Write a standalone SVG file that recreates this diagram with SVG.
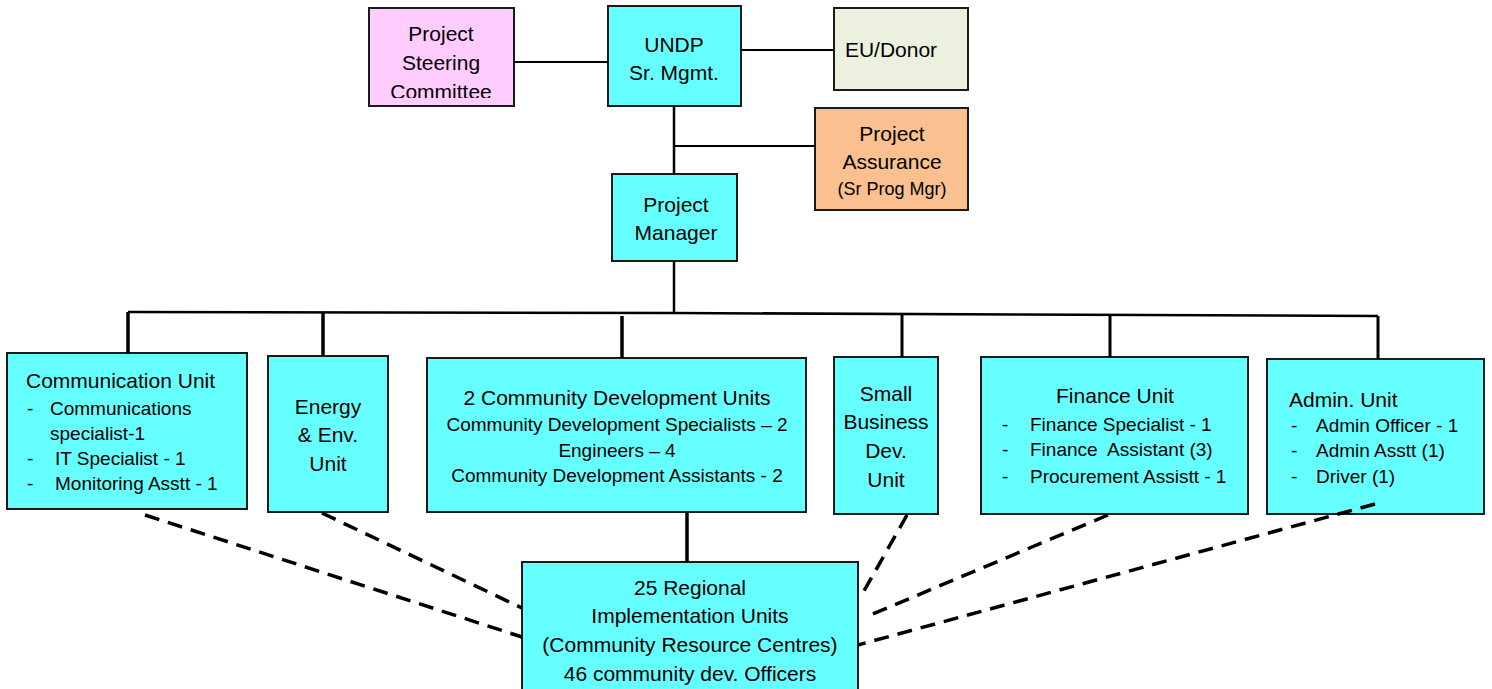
<svg xmlns="http://www.w3.org/2000/svg" width="1492" height="689" viewBox="0 0 1492 689">
<style>
text{font-family:"Liberation Sans",Arial,sans-serif;fill:#000}
.t{font-size:21px}
.s{font-size:19px}
.xs{font-size:18px}
.c{text-anchor:middle}
.box{stroke:#1a1a1a;stroke-width:2}
.cy{fill:#66FFFF}
.ln{stroke:#000;fill:none}
.dash{stroke:#000;stroke-width:3.5;stroke-dasharray:15 9;fill:none}
</style>
<defs>
<clipPath id="psc-clip"><rect x="369" y="8" width="145" height="90"/></clipPath>
</defs>
<g id="psc">
<rect class="box" x="369" y="8" width="145" height="98" fill="#FFCCFF"/>
<g clip-path="url(#psc-clip)">
<text class="t c" x="441" y="41">Project</text>
<text class="t c" x="441" y="70">Steering</text>
<text class="t c" x="441" y="99">Committee</text>
</g>
</g>
<g id="undp">
<rect class="box cy" x="608" y="6" width="133" height="100"/>
<text class="t c" x="674" y="52">UNDP</text>
<text class="t c" x="674" y="80">Sr. Mgmt.</text>
</g>
<g id="eu">
<rect class="box" x="834" y="8" width="134" height="82" fill="#EBF1DE"/>
<text class="t c" x="891" y="57">EU/Donor</text>
</g>
<g id="assurance">
<rect class="box" x="815" y="108" width="153" height="102" fill="#FAC090"/>
<text class="t c" x="892" y="141">Project</text>
<text class="t c" x="892" y="169">Assurance</text>
<text class="xs c" x="892" y="195">(Sr Prog Mgr)</text>
</g>
<g id="pm">
<rect class="box cy" x="612" y="174" width="125" height="87"/>
<text class="t c" x="676" y="212">Project</text>
<text class="t c" x="676" y="240">Manager</text>
</g>
<g id="comm">
<rect class="box cy" x="7" y="353" width="240" height="156"/>
<text class="t" x="26" y="388">Communication Unit</text>
<text class="s" x="27" y="415">-</text>
<text class="s" x="50" y="415">Communications</text>
<text class="s" x="50" y="440">specialist-1</text>
<text class="s" x="27" y="465">-</text>
<text class="s" x="55" y="465">IT Specialist - 1</text>
<text class="s" x="27" y="490">-</text>
<text class="s" x="55" y="490">Monitoring Asstt - 1</text>
</g>
<g id="energy">
<rect class="box cy" x="268" y="356" width="120" height="156"/>
<text class="t c" x="328" y="414">Energy</text>
<text class="t c" x="328" y="442">&amp; Env.</text>
<text class="t c" x="328" y="471">Unit</text>
</g>
<g id="cdu">
<rect class="box cy" x="427" y="358" width="379" height="154"/>
<text class="t c" x="617" y="405">2 Community Development Units</text>
<text class="s c" x="617" y="431">Community Development Specialists – 2</text>
<text class="s c" x="617" y="457">Engineers – 4</text>
<text class="s c" x="617" y="482">Community Development Assistants - 2</text>
</g>
<g id="sbd">
<rect class="box cy" x="834" y="357" width="104" height="157"/>
<text class="t c" x="886" y="401">Small</text>
<text class="t c" x="886" y="429">Business</text>
<text class="t c" x="886" y="458">Dev.</text>
<text class="t c" x="886" y="487">Unit</text>
</g>
<g id="finance">
<rect class="box cy" x="981" y="357" width="267" height="157"/>
<text class="t c" x="1115" y="403">Finance Unit</text>
<text class="s" x="1002" y="431">-</text>
<text class="s" x="1030" y="431">Finance Specialist - 1</text>
<text class="s" x="1002" y="456">-</text>
<text class="s" x="1030" y="456" xml:space="preserve">Finance  Assistant (3)</text>
<text class="s" x="1002" y="483">-</text>
<text class="s" x="1030" y="483">Procurement Assistt - 1</text>
</g>
<g id="admin">
<rect class="box cy" x="1267" y="359" width="217" height="155"/>
<text class="t" x="1289" y="407">Admin. Unit</text>
<text class="s" x="1291" y="432">-</text>
<text class="s" x="1316" y="432">Admin Officer - 1</text>
<text class="s" x="1291" y="457">-</text>
<text class="s" x="1316" y="457">Admin Asstt (1)</text>
<text class="s" x="1291" y="483">-</text>
<text class="s" x="1316" y="483">Driver (1)</text>
</g>
<g id="regional">
<rect class="box cy" x="522" y="562" width="336" height="140"/>
<text class="t c" x="690" y="595">25 Regional</text>
<text class="t c" x="690" y="623">Implementation Units</text>
<text class="t c" x="690" y="652">(Community Resource Centres)</text>
<text class="t c" x="690" y="681">46 community dev. Officers</text>
</g>
<g id="connectors">
<line class="ln" stroke-width="2" x1="514" y1="62" x2="608" y2="62"/>
<line class="ln" stroke-width="2" x1="741" y1="50" x2="834" y2="50"/>
<line class="ln" stroke-width="2.5" x1="674" y1="107" x2="674" y2="173"/>
<line class="ln" stroke-width="2" x1="674" y1="146" x2="815" y2="146"/>
<line class="ln" stroke-width="2.5" x1="674" y1="262" x2="674" y2="313"/>
<polyline class="ln" stroke-width="2.5" points="128,312 674,313 1378,316"/>
<line class="ln" stroke-width="3.5" x1="128" y1="312" x2="128" y2="353"/>
<line class="ln" stroke-width="3.5" x1="323" y1="312" x2="323" y2="356"/>
<line class="ln" stroke-width="3.5" x1="622" y1="316" x2="622" y2="358"/>
<line class="ln" stroke-width="3" x1="902" y1="315" x2="902" y2="357"/>
<line class="ln" stroke-width="3" x1="1110" y1="315" x2="1110" y2="357"/>
<line class="ln" stroke-width="3" x1="1378" y1="316" x2="1378" y2="359"/>
<line class="ln" stroke-width="3.5" x1="687" y1="513" x2="687" y2="562"/>
<line class="dash" x1="145" y1="515" x2="522" y2="637"/>
<line class="dash" x1="322" y1="513" x2="522" y2="608"/>
<line class="dash" x1="907" y1="515" x2="860" y2="598"/>
<line class="dash" x1="1108" y1="515" x2="868" y2="616"/>
<line class="dash" x1="1375" y1="504" x2="858" y2="645"/>
</g>
</svg>
